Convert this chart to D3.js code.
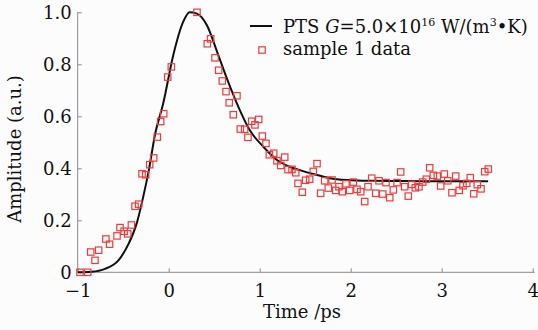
<!DOCTYPE html>
<html>
<head>
<meta charset="utf-8">
<script src="https://cdn.jsdelivr.net/npm/d3@7"></script>
<style>
body{margin:0;background:#fcfcfc;}
svg{display:block;font-family:"DejaVu Serif",serif;}
</style>
</head>
<body>
<svg id="chart" width="538" height="330"></svg>
<script>
// measured points of sample 1 (time in ps, amplitude a.u.)
var sampleTime = [-0.975,-0.89,-0.857,-0.81,-0.77,-0.69,-0.65,-0.568,-0.535,-0.49,-0.45,-0.41,-0.37,-0.33,-0.293,-0.253,-0.209,-0.165,-0.125,-0.088,-0.055,-0.011,0.029,
	0.311,0.424,0.461,0.509,0.549,0.589,0.63,0.665,0.71,0.75,0.787,0.835,0.871,0.912,0.948,0.989,1.029,1.069,1.106,1.154,1.19,1.231,1.275,1.311,1.355,1.396,1.421,1.468,
	1.505,1.549,1.589,1.63,1.67,1.714,1.754,1.795,1.835,1.871,1.908,1.948,1.989,2.029,2.069,2.11,2.154,2.19,2.231,2.275,2.311,2.352,2.388,2.429,2.468,2.509,2.549,2.593,
	2.633,2.67,2.71,2.75,2.791,2.831,2.868,2.908,2.952,2.989,3.029,3.066,3.113,3.154,3.193,3.234,3.275,3.314,3.352,3.391,3.432,3.473,3.512];
var sampleAmp = [0,0,0.078,0.046,0.085,0.128,0.108,0.14,0.172,0.158,0.148,0.182,0.254,0.262,0.379,0.375,0.414,0.44,0.52,0.58,0.61,0.751,0.79,
	1.0,0.879,0.898,0.825,0.777,0.736,0.695,0.652,0.606,0.679,0.551,0.55,0.519,0.581,0.567,0.588,0.524,0.496,0.452,0.458,0.429,0.411,0.443,0.395,0.396,0.383,0.342,0.308,
	0.354,0.358,0.388,0.418,0.304,0.352,0.324,0.355,0.315,0.329,0.31,0.34,0.315,0.347,0.319,0.31,0.272,0.329,0.362,0.304,0.352,0.301,0.345,0.287,0.317,0.345,0.386,0.329,
	0.293,0.338,0.325,0.329,0.347,0.358,0.402,0.373,0.37,0.332,0.378,0.352,0.306,0.370,0.315,0.333,0.342,0.364,0.302,0.337,0.321,0.387,0.397];

// PTS model curve
var fitTime = [-1,-0.85,-0.7,-0.55,-0.44,-0.35,-0.28,-0.22,-0.15,-0.06,0.05,0.16,0.23,0.31,0.42,0.53,0.64,0.78,0.89,1.04,1.19,1.33,1.44,1.59,1.77,1.96,2.21,2.6,3.0,3.51];
var fitAmp = [0,0.002,0.013,0.047,0.11,0.19,0.29,0.39,0.53,0.65,0.835,0.964,1.0,0.995,0.95,0.85,0.745,0.625,0.547,0.483,0.432,0.406,0.393,0.378,0.362,0.355,0.352,0.351,0.35,0.35];

var xTicks = [-1,0,1,2,3,4];
var yTicks = [0,0.2,0.4,0.6,0.8,1.0];
var yTickLabels = ["0","0.2","0.4","0.6","0.8","1.0"];

var svg = d3.select('#chart');
var mLeft = 77.7, mTop = 12.3, w = 455, h = 260;

var x = d3.scaleLinear().domain([-1,4]).range([mLeft, mLeft+w]);
var y = d3.scaleLinear().domain([0,1]).range([mTop+h, mTop]);

var axisColor = "#8a8a8a";
var fs = 18;

// bottom axis, ticks pointing in
var gx = svg.append('g').attr('transform','translate(0,'+(mTop+h)+')')
	.call(d3.axisBottom(x).tickValues(xTicks).tickSize(-4).tickPadding(12)
		.tickFormat(function(d){ return d<0 ? "\u2212"+Math.abs(d) : d; }));
gx.select('.domain').attr('stroke',axisColor).attr('d','M'+mLeft+',0H'+(mLeft+w+2));
gx.selectAll('.tick line').attr('stroke',axisColor);
gx.selectAll('.tick text').attr('font-size',fs).attr('font-family','DejaVu Serif').attr('fill','#111');

var gy = svg.append('g').attr('transform','translate('+mLeft+',0)')
	.call(d3.axisLeft(y).tickValues(yTicks).tickSize(-4).tickPadding(6)
		.tickFormat(function(d,i){ return yTickLabels[i]; }));
gy.select('.domain').attr('stroke',axisColor).attr('d','M0,'+(mTop+h)+'V'+mTop);
gy.selectAll('.tick line').attr('stroke',axisColor);
gy.selectAll('.tick text').attr('font-size',fs).attr('font-family','DejaVu Serif').attr('fill','#111');

// axis titles
svg.append('text').attr('x',302).attr('y',318).attr('text-anchor','middle')
	.attr('font-size',fs).attr('fill','#111').text('Time /ps');
svg.append('text').attr('transform','translate(21,149) rotate(-90)').attr('text-anchor','middle')
	.attr('font-size',fs).attr('fill','#111').text('Amplitude (a.u.)');

// model line
var line = d3.line().x(function(d){ return x(d[0]); }).y(function(d){ return y(d[1]); })
	.curve(d3.curveMonotoneX);
svg.append('path').datum(d3.zip(fitTime, fitAmp))
	.attr('d', line).attr('fill','none').attr('stroke','#111').attr('stroke-width',2);

// sample squares
var sq = 6.4;
var red = "#ef3b3b";
svg.append('g').selectAll('rect').data(d3.zip(sampleTime, sampleAmp)).enter().append('rect')
	.attr('x', function(d){ return x(d[0])-sq/2; })
	.attr('y', function(d){ return y(d[1])-sq/2; })
	.attr('width', sq).attr('height', sq)
	.attr('fill','none').attr('stroke', red).attr('stroke-width',1.2);

// legend
var lg = svg.append('g');
lg.append('line').attr('x1',250).attr('x2',272).attr('y1',26).attr('y2',26)
	.attr('stroke','#111').attr('stroke-width',2);
var t1 = lg.append('text').attr('x',283).attr('y',33).attr('font-size',fs).attr('fill','#111');
t1.append('tspan').text('PTS ');
t1.append('tspan').attr('font-style','italic').text('G');
t1.append('tspan').text('=5.0\u00d710');
t1.append('tspan').attr('font-size',11).attr('dy',-7).text('16');
t1.append('tspan').attr('dy',7).text(' W/(m');
t1.append('tspan').attr('font-size',11).attr('dy',-7).text('3');
t1.append('tspan').attr('dy',7).text('\u2022K)');
lg.append('rect').attr('x',262-sq/2).attr('y',50-sq/2).attr('width',sq).attr('height',sq)
	.attr('fill','none').attr('stroke',red).attr('stroke-width',1.2);
lg.append('text').attr('x',283).attr('y',55).attr('font-size',fs).attr('fill','#111').text('sample 1 data');
</script>
</body>
</html>
